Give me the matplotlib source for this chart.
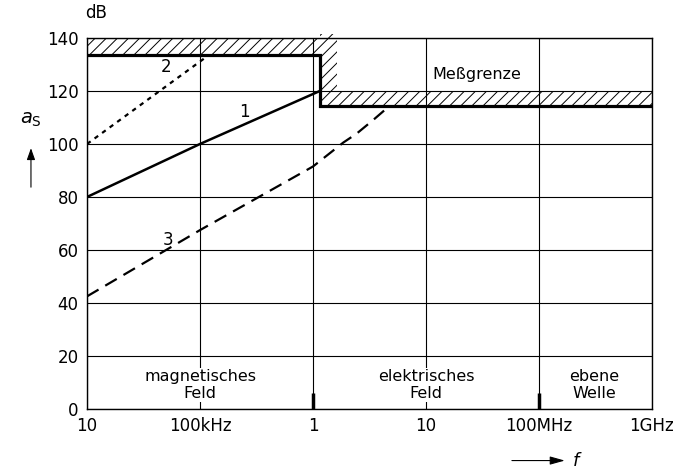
import matplotlib
matplotlib.use("Agg")
import matplotlib.pyplot as plt

# Schirmdaempfung a_s ueber der Frequenz
f1 = [1e4, 1e5, 1.15e6]
a1 = [80, 100, 120]

f2 = [1e4, 1.15e5]
a2 = [100, 133]

f3 = [1e4, 1e5, 1e6, 1.85e6, 2.45e6, 3.4e6, 4.8e6]
a3 = [42.5, 67.5, 91.5, 100.5, 104, 109, 114.5]

# Messgrenze
fg = [1e4, 1.15e6, 1.15e6, 1e9]
ag = [133.5, 133.5, 114.5, 114.5]

xticks = [1e4, 1e5, 1e6, 1e7, 1e8, 1e9]
xlabels = ["10", "100kHz", "1", "10", "100MHz", "1GHz"]
yticks = [0, 20, 40, 60, 80, 100, 120, 140]

plt.rcParams['hatch.linewidth'] = 0.7

fig = plt.figure(figsize=(6.88, 4.69), dpi=100)
ax = fig.add_axes([0.1265, 0.128, 0.821, 0.791])
ax.set_xscale("log")
ax.set_xlim(1e4, 1e9)
ax.set_ylim(0, 140)
ax.set_xticks(xticks)
ax.set_xticklabels(xlabels)
ax.minorticks_off()
ax.set_yticks(yticks)
ax.tick_params(length=0, labelsize=12, pad=6)
ax.grid(True, color="k", lw=0.8)
for s in ax.spines.values():
    s.set_linewidth(1.0)

# schraffierte Bereiche oberhalb der Messgrenze
ax.fill_between([1e4, 1.15e6], 133.5, 140, facecolor="none", edgecolor="k", hatch="///", lw=0)
ax.fill_between([1.15e6, 1.63e6], 120, 141.5, facecolor="white", edgecolor="k", hatch="///", lw=0, clip_on=False)
ax.fill_between([1.15e6, 1e9], 114.5, 120, facecolor="white", edgecolor="k", hatch="///", lw=0)

ax.plot(fg, ag, c="k", lw=2.3, solid_joinstyle="miter")
ax.plot(f1, a1, c="k", lw=1.8)
ax.plot(f2, a2, c="k", lw=1.6, dashes=(2, 2.2))
ax.plot(f3, a3, c="k", lw=1.6, dashes=(6, 3.5))

# Bereichsgrenzen
ax.plot([1e6, 1e6], [0, 6], c="k", lw=2.5, solid_capstyle="butt")
ax.plot([1e8, 1e8], [0, 6], c="k", lw=2.5, solid_capstyle="butt")

ax.text(2.2e5, 110, "1", fontsize=12)
ax.text(4.5e4, 127, "2", fontsize=12)
ax.text(4.7e4, 62, "3", fontsize=12)
ax.text(1.15e7, 124.5, "Meßgrenze", fontsize=11.5)
box = dict(facecolor="white", edgecolor="none", pad=1)
ax.text(1e5, 9, "magnetisches\nFeld", fontsize=11.5, ha="center", va="center", linespacing=1.15, bbox=box)
ax.text(1e7, 9, "elektrisches\nFeld", fontsize=11.5, ha="center", va="center", linespacing=1.15, bbox=box)
ax.text(3.1e8, 9, "ebene\nWelle", fontsize=11.5, ha="center", va="center", linespacing=1.15, bbox=box)

fig.text(0.14, 0.972, "dB", fontsize=12, ha="center", va="center")
fig.text(0.045, 0.745, r"$a_\mathrm{S}$", fontsize=14, ha="center", va="center")
fig.add_artist(matplotlib.patches.FancyArrowPatch((0.045, 0.595), (0.045, 0.69), transform=fig.transFigure,
                                                  arrowstyle="-|>,head_length=7,head_width=2.5", color="k", lw=0.8))
fig.add_artist(matplotlib.patches.FancyArrowPatch((0.74, 0.018), (0.825, 0.018), transform=fig.transFigure,
                                                  arrowstyle="-|>,head_length=9,head_width=2.5", color="k", lw=0.8))
fig.text(0.832, 0.018, r"$f$", fontsize=13, ha="left", va="center")

fig.savefig("out.png", dpi=100)
